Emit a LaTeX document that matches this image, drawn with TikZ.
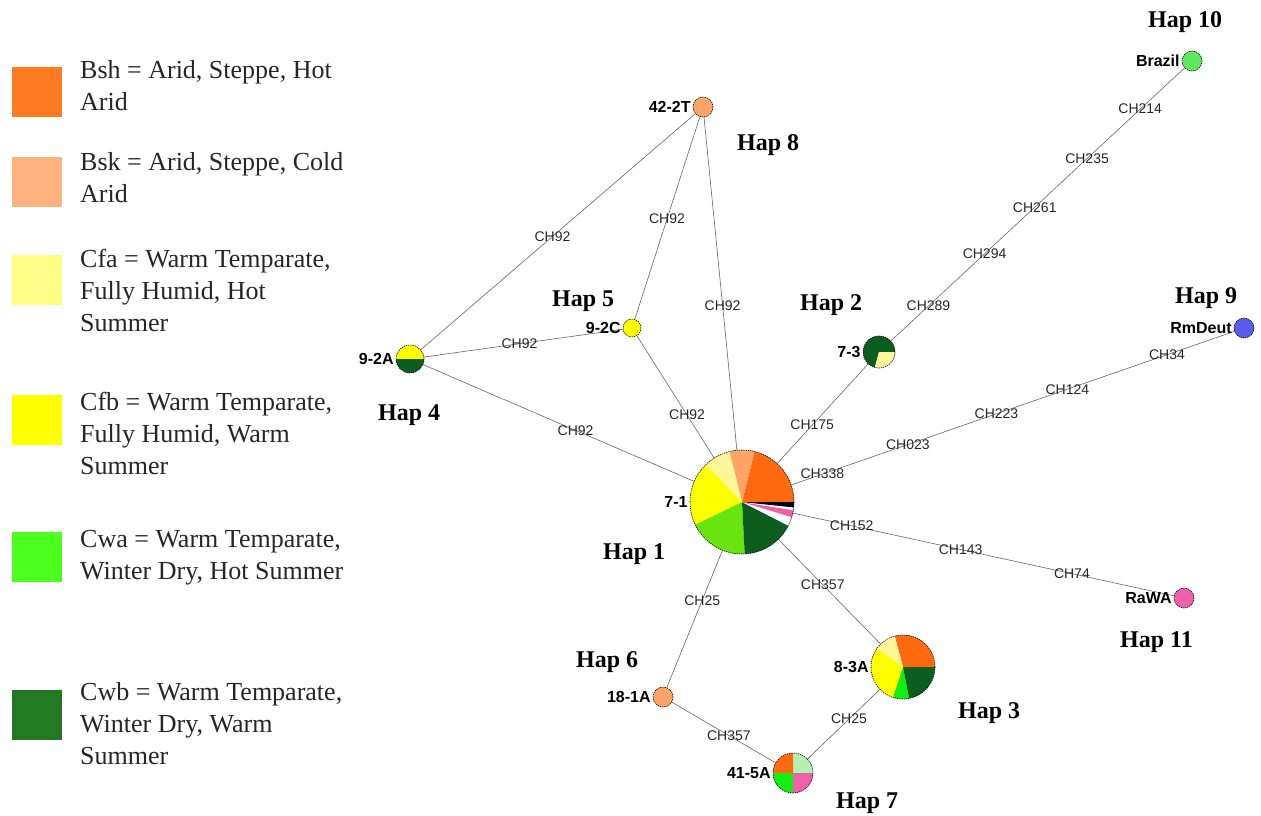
\documentclass[tikz,border=0pt]{standalone}
\usepackage{fontspec}
\setmainfont{Liberation Serif}
\setsansfont{Liberation Sans}

% climate palette (pie sectors)
\definecolor{bsh}{HTML}{FF6A10}
\definecolor{bsk}{HTML}{FFA468}
\definecolor{cfa}{HTML}{FFF59A}
\definecolor{cfb}{HTML}{FFFF00}
\definecolor{cwa}{HTML}{66E60E}
\definecolor{cwb}{HTML}{0B5E1E}
\definecolor{pinkish}{HTML}{F060A8}
\definecolor{palegreen}{HTML}{B4F0B4}
\definecolor{brightgreen}{HTML}{11EE11}
\definecolor{brazilgreen}{HTML}{5EE85E}
\definecolor{deutblue}{HTML}{5A5AF0}
% legend swatches
\definecolor{kbsh}{HTML}{FF7A20}
\definecolor{kbsk}{HTML}{FFB27D}
\definecolor{kcfa}{HTML}{FFFF88}
\definecolor{kcfb}{HTML}{FFFF00}
\definecolor{kcwa}{HTML}{4DFF1F}
\definecolor{kcwb}{HTML}{217A21}

% sector of a pie: centre node, radius, from angle, to angle, colour
\newcommand{\pieslice}[5]{%
  \fill[#5] (#1.center) -- ++(-#3:#2) arc[start angle=-#3, end angle=-#4, radius=#2] -- cycle;}

\begin{document}
\begin{tikzpicture}[x=1pt,y=-1pt,
  hap/.style={circle, draw=none, inner sep=0pt, minimum size=#1},
  ring/.style={draw=black, line width=0.6pt, dash pattern=on 1.3pt off 0.9pt},
  link/.style={draw=black!60, line width=0.6pt},
  mut/.style={font=\sffamily\fontsize{14}{14}\selectfont, inner sep=0pt, text=black!85},
  tag/.style={font=\sffamily\bfseries\fontsize{16}{16}\selectfont, inner sep=0pt, anchor=east},
  hapname/.style={font=\bfseries\fontsize{24}{24}\selectfont, inner sep=0pt, anchor=base west},
  keybox/.style={minimum width=50pt, minimum height=50pt, inner sep=0pt, fill=#1},
  keytext/.style={font=\fontsize{26}{32}\selectfont, align=left, anchor=north west, inner sep=0pt, text=black!85}
]
\useasboundingbox (0,0) rectangle (1261,815);

% ---------- legend ----------
\node[keybox=kbsh] (k1) at (37,91.5) {};
\node[keybox=kbsk] (k2) at (37,182) {};
\node[keybox=kcfa] (k3) at (37,279.5) {};
\node[keybox=kcfb] (k4) at (37,420) {};
\node[keybox=kcwa] (k5) at (37,557) {};
\node[keybox=kcwb] (k6) at (37,714.5) {};
\node[keytext] (kt1) at (80,60) {Bsh = Arid, Steppe, Hot\\Arid};
\node[keytext] (kt2) at (80,152) {Bsk = Arid, Steppe, Cold\\Arid};
\node[keytext] (kt3) at (80,249) {Cfa = Warm Temparate,\\Fully Humid, Hot\\Summer};
\node[keytext] (kt4) at (80,392) {Cfb = Warm Temparate,\\Fully Humid, Warm\\Summer};
\node[keytext] (kt5) at (80,530) {Cwa = Warm Temparate,\\Winter Dry, Hot Summer};
\node[keytext] (kt6) at (80,682) {Cwb = Warm Temparate,\\Winter Dry, Warm\\Summer};

% ---------- haplotype nodes ----------
\node[hap=104pt] (h1) at (742,502) {};
\node[hap=32pt]  (h2) at (879,352) {};
\node[hap=64pt]  (h3) at (903,667) {};
\node[hap=28pt]  (h4) at (410,359) {};
\node[hap=18pt]  (h5) at (632,328) {};
\node[hap=20pt]  (h6) at (663,697) {};
\node[hap=40pt]  (h7) at (793,773) {};
\node[hap=20pt]  (h8) at (703,107) {};
\node[hap=20pt]  (h9) at (1244,328) {};
\node[hap=20pt]  (h10) at (1192,61) {};
\node[hap=20pt]  (h11) at (1184,598) {};

% ---------- connectors with mutation labels ----------
\draw[link] (h8) -- node[mut,pos=0.52]{CH92} (h4);
\draw[link] (h8) -- node[mut,pos=0.505]{CH92} (h5);
\draw[link] (h8) -- node[mut,pos=0.565]{CH92} (h1);
\draw[link] (h4) -- node[mut,pos=0.48]{CH92} (h5);
\draw[link] (h4) -- node[mut,pos=0.563]{CH92} (h1);
\draw[link] (h5) -- node[mut,pos=0.65]{CH92} (h1);
\draw[link] (h1) -- node[mut,pos=0.385]{CH175} (h2);
\draw[link] (h2) -- node[mut,pos=0.128]{CH289}
                    node[mut,pos=0.319]{CH294}
                    node[mut,pos=0.49]{CH261}
                    node[mut,pos=0.668]{CH235}
                    node[mut,pos=0.849]{CH214} (h10);
\draw[link] (h1) -- node[mut,pos=0.07]{CH338}
                    node[mut,pos=0.263]{CH023}
                    node[mut,pos=0.463]{CH223}
                    node[mut,pos=0.623]{CH124}
                    node[mut,pos=0.848]{CH34} (h9);
\draw[link] (h1) -- node[mut,pos=0.154]{CH152}
                    node[mut,pos=0.44]{CH143}
                    node[mut,pos=0.732]{CH74} (h11);
\draw[link] (h1) -- node[mut,pos=0.434]{CH357} (h3);
\draw[link] (h1) -- node[mut,pos=0.363]{CH25} (h6);
\draw[link] (h6) -- node[mut,pos=0.55]{CH357} (h7);
\draw[link] (h7) -- node[mut,pos=0.573]{CH25} (h3);

% ---------- pies ----------
% Hap 1
\pieslice{h1}{52}{0}{76}{bsh}
\pieslice{h1}{52}{76}{104}{bsk}
\pieslice{h1}{52}{104}{134}{cfa}
\pieslice{h1}{52}{134}{206}{cfb}
\pieslice{h1}{52}{206}{273}{cwa}
\pieslice{h1}{52}{273}{333}{cwb}
\pieslice{h1}{52}{333}{343}{white}
\pieslice{h1}{52}{343}{351}{pinkish}
\pieslice{h1}{52}{351}{354}{white}
\pieslice{h1}{52}{354}{360}{black}
\draw[ring] (h1.center) circle[radius=52];
% Hap 2
\pieslice{h2}{16}{0}{255}{cwb}
\pieslice{h2}{16}{255}{360}{cfa}
\draw[ring] (h2.center) circle[radius=16];
% Hap 3
\pieslice{h3}{32}{0}{105}{bsh}
\pieslice{h3}{32}{105}{144}{cfa}
\pieslice{h3}{32}{144}{252}{cfb}
\pieslice{h3}{32}{252}{281}{brightgreen}
\pieslice{h3}{32}{281}{360}{cwb}
\draw[ring] (h3.center) circle[radius=32];
% Hap 4
\pieslice{h4}{14}{0}{180}{cfb}
\pieslice{h4}{14}{180}{360}{cwb}
\draw[ring] (h4.center) circle[radius=14];
% Hap 7
\pieslice{h7}{20}{0}{90}{palegreen}
\pieslice{h7}{20}{90}{180}{bsh}
\pieslice{h7}{20}{180}{270}{brightgreen}
\pieslice{h7}{20}{270}{360}{pinkish}
\draw[ring] (h7.center) circle[radius=20];
% single-colour haplotypes
\fill[cfb] (h5.center) circle[radius=9];  \draw[ring] (h5.center) circle[radius=9];
\fill[bsk] (h6.center) circle[radius=10]; \draw[ring] (h6.center) circle[radius=10];
\fill[bsk] (h8.center) circle[radius=10]; \draw[ring] (h8.center) circle[radius=10];
\fill[deutblue] (h9.center) circle[radius=10]; \draw[ring] (h9.center) circle[radius=10];
\fill[brazilgreen] (h10.center) circle[radius=10]; \draw[ring] (h10.center) circle[radius=10];
\fill[pinkish] (h11.center) circle[radius=10]; \draw[ring] (h11.center) circle[radius=10];

% ---------- sample tags ----------
\node[tag] (t1) at ([xshift=-2pt]h1.west) {7-1};
\node[tag] (t2) at ([xshift=-2pt]h2.west) {7-3};
\node[tag] (t3) at ([xshift=-2pt]h3.west) {8-3A};
\node[tag] (t4) at ([xshift=-2pt]h4.west) {9-2A};
\node[tag] (t5) at ([xshift=-2pt]h5.west) {9-2C};
\node[tag] (t6) at ([xshift=-2pt]h6.west) {18-1A};
\node[tag] (t7) at ([xshift=-2pt]h7.west) {41-5A};
\node[tag] (t8) at ([xshift=-2pt]h8.west) {42-2T};
\node[tag] (t9) at ([xshift=-2pt]h9.west) {RmDeut};
\node[tag] (t10) at ([xshift=-2pt]h10.west) {Brazil};
\node[tag] (t11) at ([xshift=-2pt]h11.west) {RaWA};

% ---------- haplotype names ----------
\node[hapname] (n1) at (603,559) {Hap 1};
\node[hapname] (n2) at (800,310) {Hap 2};
\node[hapname] (n3) at (958,718) {Hap 3};
\node[hapname] (n4) at (378,420) {Hap 4};
\node[hapname] (n5) at (552,306) {Hap 5};
\node[hapname] (n6) at (576,667) {Hap 6};
\node[hapname] (n7) at (836,808) {Hap 7};
\node[hapname] (n8) at (737,150) {Hap 8};
\node[hapname] (n9) at (1175,303) {Hap 9};
\node[hapname] (n10) at (1148,27) {Hap 10};
\node[hapname] (n11) at (1120,647) {Hap 11};
\end{tikzpicture}
\end{document}
